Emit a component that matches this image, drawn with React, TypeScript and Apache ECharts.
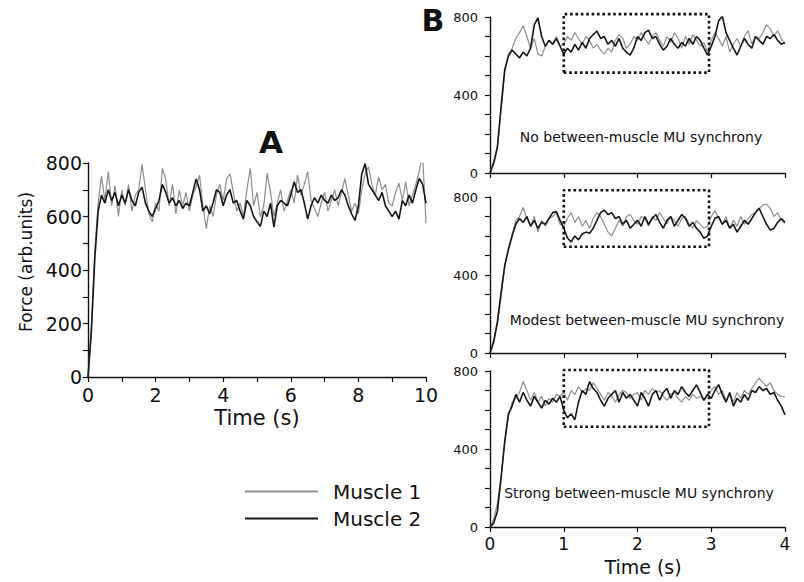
import React, { useEffect, useRef } from "react";
import * as echarts from "echarts";

// ---------- data ----------
const A_DT = 0.1; // s between samples, panel A
const B_DT = 0.05; // s between samples, panel B

const aMuscle1 = [
  0, 190, 470, 650, 752, 660, 768, 640, 715, 600,
  700, 640, 720, 620, 680, 700, 795, 700, 610, 580,
  650, 620, 780, 740, 640, 720, 610, 700, 640, 690,
  620, 680, 710, 755, 640, 555, 640, 600, 680, 720,
  660, 740, 760, 690, 620, 650, 600, 700, 780, 640,
  690, 600, 640, 762, 690, 600, 650, 700, 620, 660,
  700, 650, 755, 680, 720, 768, 660, 630, 600, 650,
  690, 620, 660, 700, 640, 690, 742, 680, 620, 650,
  610, 700, 760, 786, 720, 680, 748, 700, 720, 650,
  640, 690, 725, 660, 730, 640, 680, 720, 770, 830,
  575,
];
const aMuscle2 = [
  0, 170, 440, 620, 680, 650, 700, 660, 690, 640,
  680, 650, 700, 660, 640, 690, 710, 650, 620, 600,
  630, 660, 720, 690, 650, 670, 640, 660, 630, 650,
  640, 690, 740, 700, 620, 640, 610, 650, 700, 690,
  640, 680, 700, 650, 660, 620, 590, 660, 640, 600,
  580, 563, 620, 600, 650, 560, 640, 660, 650, 640,
  680, 730, 690, 700, 650, 590, 640, 670, 650, 680,
  660, 650, 680, 660, 670, 700, 680, 640, 610, 585,
  640, 760, 798, 720, 700, 680, 660, 690, 640, 620,
  600, 620, 590, 660, 640, 680, 650, 700, 742, 720,
  650,
];

const b1Muscle1 = [
  0, 60, 140, 320, 520, 610, 640, 690, 720, 755,
  700, 640, 690, 610, 600, 650, 680, 660, 700, 650,
  660, 700, 680, 720, 690, 660, 700, 680, 640, 660,
  630, 610, 640, 620, 680, 710, 690, 640, 660, 700,
  680, 720, 690, 660, 700, 720, 680, 650, 700, 670,
  720, 690, 640, 700, 660, 710, 680, 650, 670, 620,
  680, 720, 690, 650, 700, 620, 660, 690, 650, 700,
  730, 660, 700, 690, 720, 760, 740, 700, 730, 690,
  660,
];
const b1Muscle2 = [
  0, 50, 130, 340, 530, 600, 630, 610, 590, 620,
  600, 640, 760, 795, 700, 650, 680, 660, 690, 650,
  610, 640, 620, 660, 630, 670, 640, 690, 710, 728,
  690, 700, 660, 680, 650, 690, 640, 620, 605, 640,
  700, 680, 720, 733, 690, 700, 660, 630, 650, 690,
  660, 640, 670, 650, 690, 660, 700, 680, 640, 605,
  650, 700, 780, 805, 720, 680, 640, 605, 650, 690,
  660, 640, 700, 680, 660, 700, 690, 710, 680, 660,
  670,
];
const b2Muscle1 = [
  0, 50, 150, 290, 440, 540, 610, 680, 700, 747,
  690, 650, 700, 620, 680, 650, 690, 700, 720, 660,
  650, 690, 720, 670, 700, 650, 680, 640, 690, 720,
  700, 660, 620, 600, 640, 680, 650, 700, 710, 680,
  660, 700, 690, 650, 700, 680, 720, 690, 660, 700,
  680, 650, 690, 700, 660, 640, 680, 660, 640, 650,
  700, 730, 690, 660, 700, 640, 680, 650, 700, 660,
  690, 710, 720, 740, 760, 764, 740, 700, 720, 680,
  665,
];
const b2Muscle2 = [
  0, 60, 160, 310, 450, 530, 600, 660, 690, 670,
  700, 650, 680, 640, 670, 660, 690, 720, 725, 680,
  640, 590, 570, 600, 580, 610, 620, 614, 640, 680,
  720, 733, 710, 720, 690, 700, 660, 680, 640, 660,
  680, 650, 700, 660, 690, 710, 670, 640, 680, 700,
  650, 680, 710, 690, 650, 670, 640, 620, 588, 600,
  650, 690, 700, 660, 680, 640, 660, 620, 650, 680,
  660, 690, 720, 742, 700, 660, 630, 640, 670, 690,
  670,
];
const b3Muscle1 = [
  0, 40, 120, 260, 430, 570, 640, 660, 690, 746,
  700, 650, 690, 640, 670, 620, 660, 640, 680, 670,
  690, 650, 700, 680, 720, 690, 710, 700, 740, 710,
  680, 650, 690, 670, 640, 680, 700, 690, 660, 680,
  690, 650, 700, 680, 710, 690, 700, 670, 650, 680,
  690, 660, 640, 670, 650, 680, 660, 670, 650, 680,
  700, 720, 680, 700, 650, 680, 640, 690, 660, 700,
  680, 710, 740, 763, 740, 720, 740, 700, 680, 670,
  668,
];
const b3Muscle2 = [
  0, 20, 80, 250, 440, 580, 620, 680, 640, 690,
  650, 620, 670, 640, 610, 650, 630, 660, 640, 670,
  600, 560, 580, 549, 640, 700, 680, 746, 710, 690,
  650, 620, 660, 680, 700, 640, 690, 660, 680, 650,
  620, 690, 660, 620, 680, 700, 650, 690, 710, 660,
  700, 680, 720, 690, 670, 700, 729, 690, 650, 680,
  660, 700, 730, 680, 640, 690, 620, 660, 640, 680,
  650, 700, 690, 720, 700, 710, 680, 690, 650, 620,
  575,
];

// dotted analysis windows (time range, force range) per B subplot
const boxTime = [1.0, 2.97];
const box1Force = [515, 815];
const box2Force = [545, 835];
const box3Force = [514, 805];

const subplotNotes = [
  "No between-muscle MU synchrony",
  "Modest between-muscle MU synchrony",
  "Strong between-muscle MU synchrony",
];
const legendNames = ["Muscle 1", "Muscle 2"];

// ---------- helpers ----------
const FONT = '"DejaVu Sans", "Liberation Sans", sans-serif';
const INK = "#111111";
const GRAY = "#8e8e8e";
const BLACK = "#161616";

const toPairs = (vals: number[], dt: number) =>
  vals.map((v, i) => [Math.round(i * dt * 1000) / 1000, v]);

const boxPath = (t: number[], f: number[]) => [
  [t[0], f[0]],
  [t[1], f[0]],
  [t[1], f[1]],
  [t[0], f[1]],
  [t[0], f[0]],
];

const axisLine = { show: true, lineStyle: { color: INK, width: 1.4 } };
const axisTick = { show: true, length: 5, lineStyle: { color: INK, width: 1.2 } };

export default function App() {
  const ref = useRef<HTMLDivElement>(null);

  useEffect(() => {
    if (!ref.current) return;
    const chart = echarts.init(ref.current, undefined, { renderer: "svg" });

    const grids = [
      { left: 88, top: 163, width: 338, height: 214 },
      { left: 490, top: 17, width: 295, height: 156 },
      { left: 490, top: 197, width: 295, height: 156 },
      { left: 490, top: 371, width: 295, height: 156 },
    ];

    const xAxes: any[] = [
      {
        gridIndex: 0, type: "value", min: 0, max: 10, interval: 1,
        axisLine, axisTick, splitLine: { show: false },
        axisLabel: {
          formatter: (v: number) => (v % 2 === 0 ? String(v) : ""),
          fontSize: 19, fontFamily: FONT, color: INK, margin: 8,
        },
      },
    ];
    const yAxes: any[] = [
      {
        gridIndex: 0, type: "value", min: 0, max: 800, interval: 100,
        axisLine, axisTick, splitLine: { show: false },
        axisLabel: {
          formatter: (v: number) => (v % 200 === 0 ? String(v) : ""),
          fontSize: 19, fontFamily: FONT, color: INK, margin: 6,
        },
      },
    ];
    for (let g = 1; g <= 3; g++) {
      xAxes.push({
        gridIndex: g, type: "value", min: 0, max: 4, interval: 1,
        axisLine, axisTick, splitLine: { show: false },
        axisLabel: {
          show: g === 3, fontSize: 17, fontFamily: FONT, color: INK, margin: 8,
        },
      });
      yAxes.push({
        gridIndex: g, type: "value", min: 0, max: 800, interval: 100,
        axisLine, axisTick, splitLine: { show: false },
        axisLabel: {
          formatter: (v: number) => (v % 400 === 0 ? String(v) : ""),
          fontSize: 13, fontFamily: FONT, color: INK, margin: 12,
        },
      });
    }

    const lineSeries = (name: string, data: number[][], idx: number, black: boolean) => ({
      name, type: "line", xAxisIndex: idx, yAxisIndex: idx, data,
      symbol: "none", showSymbol: false,
      lineStyle: { color: black ? BLACK : GRAY, width: black ? 1.6 : 1.2 },
      itemStyle: { color: black ? BLACK : GRAY },
      z: black ? 3 : 2,
    });
    const boxSeries = (idx: number, f: number[]) => ({
      type: "line", xAxisIndex: idx, yAxisIndex: idx,
      data: boxPath(boxTime, f), symbol: "none", clip: false,
      lineStyle: { color: INK, width: 2.6, type: [2.6, 2.8] },
      z: 4, silent: true,
    });

    const series: any[] = [
      lineSeries(legendNames[0], toPairs(aMuscle1, A_DT), 0, false),
      lineSeries(legendNames[1], toPairs(aMuscle2, A_DT), 0, true),
      lineSeries(legendNames[0], toPairs(b1Muscle1, B_DT), 1, false),
      lineSeries(legendNames[1], toPairs(b1Muscle2, B_DT), 1, true),
      lineSeries(legendNames[0], toPairs(b2Muscle1, B_DT), 2, false),
      lineSeries(legendNames[1], toPairs(b2Muscle2, B_DT), 2, true),
      lineSeries(legendNames[0], toPairs(b3Muscle1, B_DT), 3, false),
      lineSeries(legendNames[1], toPairs(b3Muscle2, B_DT), 3, true),
      boxSeries(1, box1Force),
      boxSeries(2, box2Force),
      boxSeries(3, box3Force),
    ];

    const txt = (text: string, x: number, y: number, size: number, bold = false, rotation = 0) => ({
      type: "text", x, y, rotation,
      style: {
        text, fill: INK, align: "center", verticalAlign: "middle",
        font: `${bold ? "bold " : ""}${size}px ${FONT}`,
      },
    });

    chart.setOption({
      animation: false,
      backgroundColor: "#ffffff",
      grid: grids,
      xAxis: xAxes,
      yAxis: yAxes,
      series,
      legend: {
        data: [
          { name: legendNames[0], icon: "rect", itemStyle: { color: GRAY } },
          { name: legendNames[1], icon: "rect", itemStyle: { color: BLACK } },
        ],
        orient: "vertical",
        left: 245,
        top: 481,
        padding: 0,
        itemWidth: 73,
        itemHeight: 2,
        itemGap: 6,
        selectedMode: false,
        textStyle: {
          fontSize: 20, fontFamily: FONT, color: INK, lineHeight: 21,
          padding: [0, 0, 0, 10],
        },
      },
      graphic: [
        txt("A", 271, 142, 31, true),
        txt("B", 433, 20, 30, true),
        txt("Force (arb.units)", 26, 262, 17, false, Math.PI / 2),
        txt("Time (s)", 257, 418, 21),
        txt("Time (s)", 643, 567, 19),
        txt(subplotNotes[0], 641, 137, 14),
        txt(subplotNotes[1], 647, 320, 14),
        txt(subplotNotes[2], 639, 493, 14),
      ],
    });

    return () => chart.dispose();
  }, []);

  return (
    <div
      ref={ref}
      style={{ position: "fixed", left: 0, top: 0, width: 804, height: 582 }}
    />
  );
}
